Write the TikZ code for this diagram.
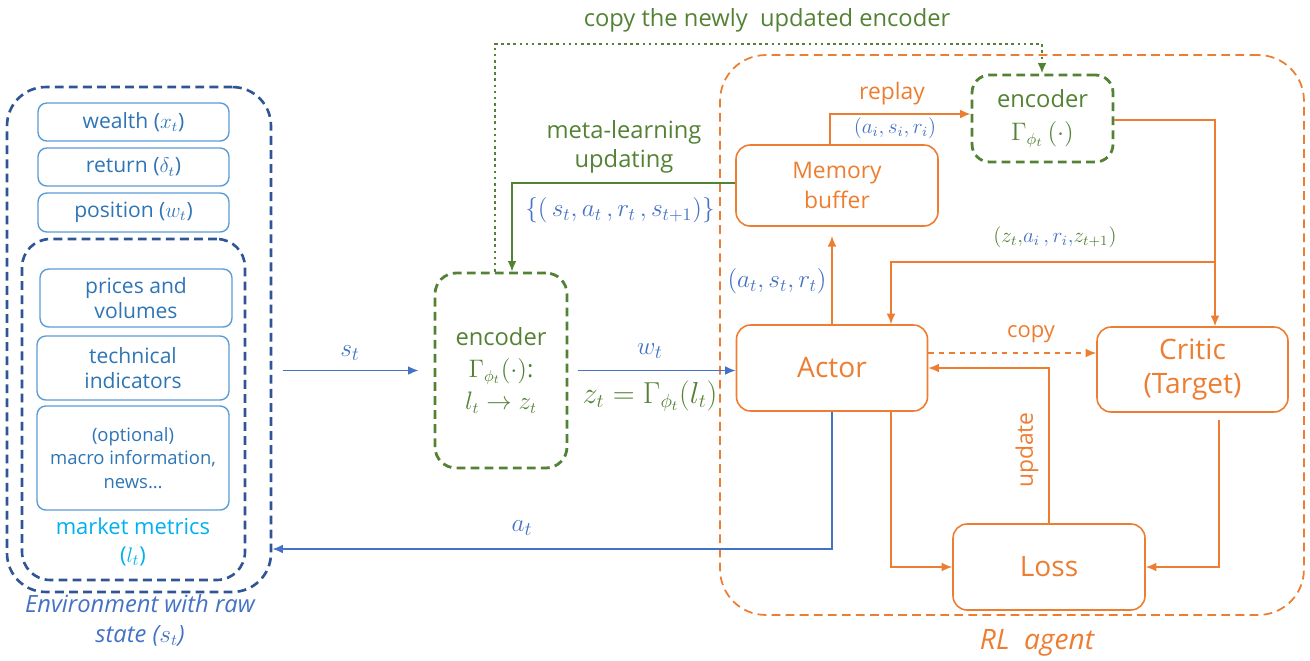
\documentclass[tikz,border=0pt]{standalone}
\usepackage{fontspec}
\setmainfont{Open Sans}
\usetikzlibrary{arrows.meta,calc}
\definecolor{orng}{HTML}{ED7D31}
\definecolor{grn}{HTML}{548235}
\definecolor{blu}{HTML}{4472C4}
\definecolor{navy}{HTML}{2F5597}
\definecolor{lblu}{HTML}{5B9BD5}
\definecolor{tblu}{HTML}{2E75B6}
\definecolor{cyn}{HTML}{00B0F0}
\tikzset{
  envitem/.style={draw=lblu, line width=0.8pt, rounded corners=5pt, inner sep=0pt,
    align=center, text=tblu, font=\fontsize{12}{14.5}\selectfont},
  agentbox/.style={draw=orng, line width=0.9pt, rounded corners=8pt, inner sep=0pt,
    align=center, text=orng},
  encbox/.style={draw=grn, line width=1.6pt, dash pattern=on 5pt off 3pt,
    rounded corners=12pt, inner sep=0pt, align=center, text=grn},
  navybox/.style={draw=navy, line width=1.5pt, dash pattern=on 5pt off 3pt, inner sep=0pt},
  barrow/.style={draw=blu, line width=1pt, -{Latex[length=6pt,width=5pt]}},
  garrow/.style={draw=grn, line width=1pt, -{Latex[length=6pt,width=5pt]}},
  gdot/.style={draw=grn, line width=1.5pt, dotted, -{Latex[length=6pt,width=5pt]}},
  oarrow/.style={draw=orng, line width=0.9pt, -{Latex[length=6pt,width=5pt]}},
  lbl/.style={inner sep=0pt, align=center, font=\fontsize{12}{14}\selectfont},
}
\begin{document}
\begin{tikzpicture}[x=0.02cm, y=-0.02cm]
\useasboundingbox (0,0) rectangle (1310,660);

% ---- environment ----
\node[navybox, rounded corners=22pt, minimum width=5.28cm, minimum height=10.1cm] (env) at (139,339.5) {};
\node[navybox, rounded corners=16pt, minimum width=4.46cm, minimum height=6.82cm] (mkt) at (133.5,409.5) {};
\node[envitem, minimum width=3.82cm, minimum height=0.76cm] (wealth) at (133.5,122) {wealth ($x_t$)};
\node[envitem, minimum width=3.82cm, minimum height=0.76cm] (ret) at (133.5,167) {return ($\delta_t$)};
\node[envitem, minimum width=3.82cm, minimum height=0.78cm] (pos) at (133.5,212.5) {position ($w_t$)};
\node[envitem, minimum width=3.84cm, minimum height=1.16cm] (prices) at (136,298) {prices and\\volumes};
\node[envitem, minimum width=3.84cm, minimum height=1.28cm] (tech) at (133,368) {technical\\indicators};
\node[envitem, minimum width=3.84cm, minimum height=2.08cm, font=\fontsize{10.5}{13.5}\selectfont] (macro) at (133,458) {(optional)\\macro information,\\news\ldots};
\node[lbl, text=cyn, font=\fontsize{12.5}{16}\selectfont] (mm) at (133,542) {market metrics\\($l_t$)};
\node[lbl, text=blu, font=\fontsize{13.5}{17}\itshape\selectfont] (envlbl) at (140,620) {Environment with raw\\state ($s_t$)};

% ---- meta encoder ----
\node[encbox, minimum width=2.64cm, minimum height=3.9cm, font=\fontsize{13.5}{18}\selectfont] (enc1) at (501,370.5) {encoder\\$\Gamma_{\phi_t}(\cdot)$:\\$l_t\rightarrow z_t$};

% ---- RL agent ----
\node[draw=orng, line width=1pt, dash pattern=on 5pt off 3pt, rounded corners=26pt,
  minimum width=11.68cm, minimum height=11.2cm, inner sep=0pt] (agent) at (1012,335) {};
\node[lbl, text=orng, font=\fontsize{16}{18}\itshape\selectfont] (agentlbl) at (1037,643) {RL~~agent};
\node[agentbox, minimum width=4.04cm, minimum height=1.62cm, font=\fontsize{13}{17}\selectfont] (mem) at (837,185.5) {Memory\\buffer};
\node[encbox, rounded corners=10pt, minimum width=2.82cm, minimum height=1.74cm, font=\fontsize{13.5}{19}\selectfont] (enc2) at (1042.5,118.5) {encoder\\$\Gamma_{\phi_t}\,(\cdot)$};
\node[agentbox, minimum width=3.82cm, minimum height=1.72cm, font=\fontsize{16}{19}\selectfont] (actor) at (832,368) {Actor};
\node[agentbox, minimum width=3.82cm, minimum height=1.7cm, font=\fontsize{16}{19}\selectfont] (critic) at (1192.5,369.5) {Critic\\(Target)};
\node[agentbox, minimum width=3.84cm, minimum height=1.72cm, font=\fontsize{16}{19}\selectfont] (loss) at (1049,567) {Loss};

% ---- connectors ----
\draw[barrow, shorten <=0.22cm, shorten >=0.3cm] (env.east |- enc1.west) -- (enc1.west);
\node[lbl, text=blu, font=\fontsize{15}{17}\selectfont] (stl) at (350,353) {$s_t$};

\draw[barrow, shorten <=0.2cm] (enc1.east) -- (enc1.east -| actor.west);
\node[lbl, text=blu, font=\fontsize{15}{17}\selectfont] (wtl) at (650,351) {$w_t$};
\node[lbl, text=grn, font=\fontsize{16}{18}\selectfont] (ztl) at (650,396) {$z_t=\Gamma_{\phi_t}(l_t)$};

\coordinate (atc) at (832,549);
\draw[barrow] (actor.south) -- (atc) -- (atc -| env.east);
\node[lbl, text=blu, font=\fontsize{15}{17}\selectfont] (atl) at (522,528) {$a_t$};

\coordinate (mlx) at (512,183);
\draw[garrow] (mem.west |- mlx) -- (mlx) -- (mlx |- enc1.north);
\node[lbl, text=grn, font=\fontsize{13.5}{16.5}\selectfont] (mll) at (624,147) {meta-learning\\updating};
\node[lbl, text=blu, font=\fontsize{14}{16}\selectfont] (tpl) at (620,210) {$\{(\,s_t,a_t\,,r_t\,,s_{t+1})\}$};

\coordinate (cpL) at (495,44);
\coordinate (cpR) at (1042,44);
\draw[gdot] (enc1.north -| cpL) -- (cpL) -- (cpR) -- (cpR |- enc2.north);
\node[lbl, text=grn, font=\fontsize{13.5}{16}\selectfont] (cpl) at (767,20) {copy the newly~~updated encoder};

\coordinate (rpx) at (830,114);
\draw[oarrow] (rpx |- mem.north) -- (rpx) -- (rpx -| enc2.west);
\node[lbl, text=orng, font=\fontsize{13}{15}\selectfont] (rpl) at (892,94) {replay};
\node[lbl, text=blu, font=\fontsize{12}{14}\selectfont] (asr) at (895,128) {$(a_i,s_i,r_i)$};

\coordinate (rx) at (1215,262);
\coordinate (ax) at (891,262);
\draw[oarrow] (enc2.east |- 0,120) -- (rx |- 0,120) -- (rx) -- (rx |- critic.north);
\draw[oarrow] (rx) -- (ax) -- (ax |- actor.north);
\node[lbl, font=\fontsize{12}{14}\selectfont] (zar) at (1055,237) {\color{grn}$(z_t,$\color{blu}$a_i\,,r_i,$\color{grn}$z_{t+1})$};

\coordinate (amx) at (832,236);
\draw[oarrow] (actor.north) -- (amx);
\node[lbl, text=blu, font=\fontsize{14}{16}\selectfont] (astl) at (777,281) {$(a_t,s_t,r_t)$};

\coordinate (cpy) at (927,353);
\draw[oarrow, dashed] (actor.east |- cpy) -- (critic.west |- cpy);
\node[lbl, text=orng, font=\fontsize{12.5}{15}\selectfont] (cpyl) at (1031,334) {copy};

\draw[oarrow] (loss.north) |- (actor.east);
\node[lbl, text=orng, rotate=90, font=\fontsize{13}{15}\selectfont] (updl) at (1027,450) {update};

\coordinate (alx) at (891,411);
\draw[oarrow] (alx |- actor.south) |- (loss.west);
\coordinate (clx) at (1219,420);
\draw[oarrow] (clx) |- (loss.east);
\end{tikzpicture}
\end{document}
